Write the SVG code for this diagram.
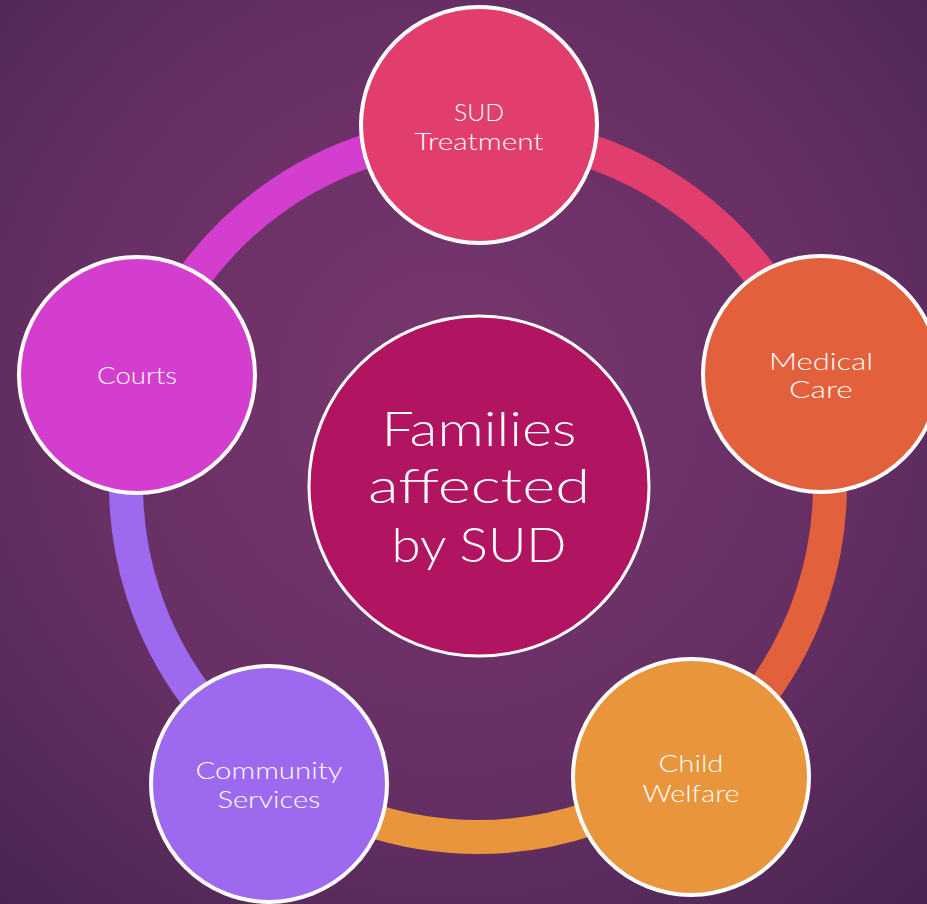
<svg xmlns="http://www.w3.org/2000/svg" width="927" height="904" viewBox="0 0 927 904">
  <defs>
    <radialGradient id="bg" gradientUnits="userSpaceOnUse" cx="450" cy="390" r="720">
      <stop offset="0" stop-color="#78376d"/>
      <stop offset="0.55" stop-color="#662f64"/>
      <stop offset="1" stop-color="#45254f"/>
    </radialGradient>
    <style>
      .ring { fill: none; stroke-width: 34; }
      .node { stroke: #ffffff; stroke-width: 4; }
      .label { fill: #ffffff; font-family: Lato, "Liberation Sans", sans-serif; font-weight: 300; font-size: 24px; text-anchor: middle; }
      .hub { fill: #ffffff; font-family: Lato, "Liberation Sans", sans-serif; font-weight: 300; font-size: 48px; text-anchor: middle; }
    </style>
  </defs>

  <rect width="927" height="904" fill="url(#bg)"/>

  <!-- connecting ring, one arc per neighbouring pair -->
  <g id="connectors">
    <path class="ring" stroke="#e23e6d" d="M 478 133 A 352 352 0 0 1 812.77 376.23"/>
    <path class="ring" stroke="#e3603c" d="M 812.77 376.23 A 352 352 0 0 1 684.9 769.77"/>
    <path class="ring" stroke="#e9953b" d="M 684.9 769.77 A 352 352 0 0 1 271.1 769.77"/>
    <path class="ring" stroke="#9c69ef" d="M 271.1 769.77 A 352 352 0 0 1 143.23 376.23"/>
    <path class="ring" stroke="#d33ecf" d="M 143.23 376.23 A 352 352 0 0 1 478 133"/>
  </g>

  <g id="hub">
    <circle cx="479" cy="486" r="170" fill="#b11461" stroke="#ffffff" stroke-width="3"/>
    <text class="hub" x="479" y="446" textLength="195" lengthAdjust="spacingAndGlyphs">Families</text>
    <text class="hub" x="479" y="503" textLength="222" lengthAdjust="spacingAndGlyphs">affected</text>
    <text class="hub" x="479" y="562" textLength="175" lengthAdjust="spacingAndGlyphs">by SUD</text>
  </g>

  <g id="sud-treatment">
    <circle class="node" cx="479" cy="125" r="118" fill="#e23e6d"/>
    <text class="label" x="479" y="121" textLength="50" lengthAdjust="spacingAndGlyphs">SUD</text>
    <text class="label" x="479" y="150" textLength="129" lengthAdjust="spacingAndGlyphs">Treatment</text>
  </g>

  <g id="medical-care">
    <circle class="node" cx="821" cy="374" r="118" fill="#e3603c"/>
    <text class="label" x="821" y="370" textLength="104" lengthAdjust="spacingAndGlyphs">Medical</text>
    <text class="label" x="821" y="398" textLength="64" lengthAdjust="spacingAndGlyphs">Care</text>
  </g>

  <g id="child-welfare">
    <circle class="node" cx="691" cy="777" r="118" fill="#e9953b"/>
    <text class="label" x="691" y="772" textLength="65" lengthAdjust="spacingAndGlyphs">Child</text>
    <text class="label" x="691" y="802" textLength="97" lengthAdjust="spacingAndGlyphs">Welfare</text>
  </g>

  <g id="community-services">
    <circle class="node" cx="269" cy="784" r="118" fill="#9c69ef"/>
    <text class="label" x="269" y="779" textLength="147" lengthAdjust="spacingAndGlyphs">Community</text>
    <text class="label" x="269" y="808" textLength="103" lengthAdjust="spacingAndGlyphs">Services</text>
  </g>

  <g id="courts">
    <circle class="node" cx="137" cy="375" r="118" fill="#d33ecf"/>
    <text class="label" x="137" y="384" textLength="80" lengthAdjust="spacingAndGlyphs">Courts</text>
  </g>
</svg>
